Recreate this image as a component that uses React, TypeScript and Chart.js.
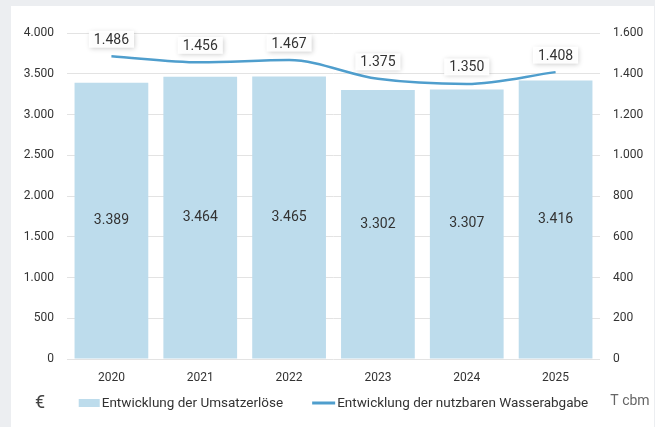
import React, { useEffect, useRef } from "react";
import { Chart, registerables } from "chart.js";

Chart.register(...registerables);

const years = ["2020", "2021", "2022", "2023", "2024", "2025"];
const revenue = [3389, 3464, 3465, 3302, 3307, 3416];
const waterOutput = [1486, 1456, 1467, 1375, 1350, 1408];
const revenueLabel = "Entwicklung der Umsatzerlöse";
const waterLabel = "Entwicklung der nutzbaren Wasserabgabe";
const leftUnit = "€";
const rightUnit = "T cbm";

const BAR_COLOR = "#bddcec";
const LINE_COLOR = "#4f9ecd";
const TEXT = "#333333";
const FONT = "Roboto, 'Noto Sans', sans-serif";

function fmt(v: number): string {
  return Math.round(v)
    .toString()
    .replace(/\B(?=(\d{3})+(?!\d))/g, ".");
}

const overlayPlugin = {
  id: "overlay",
  afterDatasetsDraw(chart: any) {
    const ctx = chart.ctx as CanvasRenderingContext2D;
    const barMeta = chart.getDatasetMeta(0);
    ctx.save();
    ctx.font = `14px ${FONT}`;
    ctx.fillStyle = TEXT;
    ctx.textAlign = "center";
    ctx.textBaseline = "middle";
    barMeta.data.forEach((el: any, i: number) => {
      const mid = (el.y + el.base) / 2;
      ctx.fillText(fmt(revenue[i]), el.x, mid);
    });
    ctx.restore();

    const lineMeta = chart.getDatasetMeta(1);
    ctx.save();
    ctx.font = `14px ${FONT}`;
    lineMeta.data.forEach((el: any, i: number) => {
      const text = fmt(waterOutput[i]);
      const w = ctx.measureText(text).width + 10;
      const h = 17;
      const cx = el.x;
      const cy = el.y - 17;
      ctx.save();
      ctx.shadowColor = "rgba(0,0,0,0.22)";
      ctx.shadowBlur = 5;
      ctx.shadowOffsetX = 1;
      ctx.shadowOffsetY = 1;
      ctx.fillStyle = "rgba(255,255,255,0.95)";
      ctx.fillRect(cx - w / 2, cy - h / 2, w, h);
      ctx.restore();
      ctx.fillStyle = TEXT;
      ctx.textAlign = "center";
      ctx.textBaseline = "middle";
      ctx.fillText(text, cx, cy + 1);
    });
    ctx.restore();
  },
  afterDraw(chart: any) {
    const ctx = chart.ctx as CanvasRenderingContext2D;
    const area = chart.chartArea;
    const yL = chart.scales.y;
    const yR = chart.scales.y1;
    const legendY = area.bottom + 44;
    ctx.save();
    ctx.textBaseline = "middle";
    ctx.font = `18px ${FONT}`;
    ctx.fillStyle = "#444";
    ctx.textAlign = "center";
    ctx.fillText(leftUnit, (yL.left + yL.right) / 2 + 1, legendY);
    ctx.font = `14px ${FONT}`;
    ctx.fillStyle = "#666";
    ctx.fillText(rightUnit, (yR.left + yR.right) / 2 + 3, legendY - 2);

    ctx.font = `13.5px ${FONT}`;
    const sw = 21;
    const gapText = 2;
    const gapItems = 29;
    const w1 = ctx.measureText(revenueLabel).width;
    const w2 = ctx.measureText(waterLabel).width;
    const total = sw + gapText + w1 + gapItems + 23 + gapText + w2;
    let x = (area.left + area.right) / 2 - total / 2;
    ctx.fillStyle = BAR_COLOR;
    ctx.fillRect(x, legendY - 4, sw, 8);
    x += sw + gapText;
    ctx.fillStyle = TEXT;
    ctx.textAlign = "left";
    ctx.fillText(revenueLabel, x, legendY + 1);
    x += w1 + gapItems;
    ctx.strokeStyle = LINE_COLOR;
    ctx.lineWidth = 3;
    ctx.beginPath();
    ctx.moveTo(x, legendY);
    ctx.lineTo(x + 23, legendY);
    ctx.stroke();
    x += 23 + gapText;
    ctx.fillText(waterLabel, x, legendY + 1);
    ctx.restore();
  },
};

export default function App() {
  const ref = useRef<HTMLCanvasElement | null>(null);

  useEffect(() => {
    if (!ref.current) return;
    const chart = new Chart(ref.current, {
      type: "bar",
      data: {
        labels: years,
        datasets: [
          {
            type: "bar",
            label: revenueLabel,
            data: revenue,
            backgroundColor: BAR_COLOR,
            borderWidth: 0,
            yAxisID: "y",
            order: 1,
            categoryPercentage: 1,
            barPercentage: 0.83,
          } as any,
          {
            type: "line",
            label: waterLabel,
            data: waterOutput,
            borderColor: LINE_COLOR,
            backgroundColor: LINE_COLOR,
            borderWidth: 2.5,
            pointRadius: 0,
            cubicInterpolationMode: "monotone",
            yAxisID: "y1",
            order: 0,
          } as any,
        ],
      },
      options: {
        animation: false,
        responsive: false,
        maintainAspectRatio: false,
        layout: { padding: { top: 27, left: 0, right: 0, bottom: 0 } },
        plugins: {
          legend: { display: false },
          tooltip: { enabled: false },
        },
        scales: {
          x: {
            grid: { display: false, drawTicks: false },
            border: { display: false },
            ticks: { color: TEXT, font: { family: FONT, size: 12 }, padding: 12 },
            afterFit(scale: any) {
              scale.height = 68;
            },
          },
          y: {
            position: "left",
            min: 0,
            max: 4000,
            ticks: {
              stepSize: 500,
              color: TEXT,
              font: { family: FONT, size: 12 },
              padding: 13,
              callback: (v: any) => fmt(Number(v)),
            },
            grid: { color: "#e3e3e3", drawTicks: false, lineWidth: 1 },
            border: { display: false },
            afterFit(scale: any) {
              scale.width = 56;
            },
          },
          y1: {
            position: "right",
            min: 0,
            max: 1600,
            ticks: {
              stepSize: 200,
              color: TEXT,
              font: { family: FONT, size: 12 },
              padding: 13,
              callback: (v: any) => fmt(Number(v)),
            },
            grid: { display: false, drawTicks: false },
            border: { display: false },
            afterFit(scale: any) {
              scale.width = 54;
            },
          },
        },
      },
      plugins: [overlayPlugin],
    });
    return () => chart.destroy();
  }, []);

  return (
    <div
      style={{
        position: "fixed",
        left: 0,
        top: 0,
        width: 655,
        height: 427,
        background: "#eceef1",
      }}
    >
      <div
        style={{
          position: "absolute",
          left: 11,
          top: 6,
          width: 643,
          height: 421,
          background: "#ffffff",
        }}
      >
        <canvas ref={ref} width={643} height={421} style={{ display: "block" }} />
      </div>
    </div>
  );
}
